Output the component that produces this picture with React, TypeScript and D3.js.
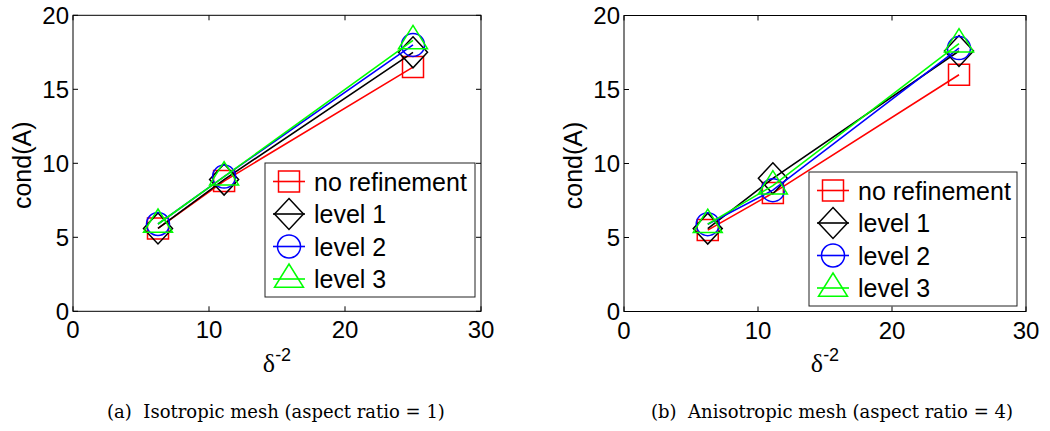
import React, { useEffect, useRef } from 'react';
import * as d3 from 'd3';

// x values are delta^-2 for delta = 0.4, 0.3, 0.2
const deltaValues = [6.25, 11.11, 25];

const seriesLabels = ['no refinement', 'level 1', 'level 2', 'level 3'];
const seriesColors = ['#ff0000', '#000000', '#0000ff', '#00ff00'];
const seriesMarkers = ['square', 'diamond', 'circle', 'triangle'];

// (a) isotropic mesh
const isoNoRefinement = [5.6, 8.8, 16.5];
const isoLevel1 = [5.6, 8.9, 17.5];
const isoLevel2 = [5.9, 9.1, 18.0];
const isoLevel3 = [5.9, 9.1, 18.3];

// (b) anisotropic mesh
const anisoNoRefinement = [5.5, 8.0, 16.0];
const anisoLevel1 = [5.6, 9.0, 17.6];
const anisoLevel2 = [5.9, 8.2, 17.8];
const anisoLevel3 = [5.9, 8.5, 18.1];

const xTicks = [0, 10, 20, 30];
const yTicks = [0, 5, 10, 15, 20];
const captions = ['(a)  Isotropic mesh (aspect ratio = 1)', '(b)  Anisotropic mesh (aspect ratio = 4)'];

const panels = [
    {
        series: [isoNoRefinement, isoLevel1, isoLevel2, isoLevel3],
        left: 73, right: 481, top: 15.3, bottom: 311.3,
        legend: {x: 265, y: 163, w: 210, h: 134},
        yLabelX: 31,
        captionX: 276,
        caption: captions[0]
    },
    {
        series: [anisoNoRefinement, anisoLevel1, anisoLevel2, anisoLevel3],
        left: 624, right: 1026, top: 15.5, bottom: 311.5,
        legend: {x: 809, y: 172, w: 208, h: 134},
        yLabelX: 582,
        captionX: 832,
        caption: captions[1]
    }
];

const sans = '"Liberation Sans", Arial, sans-serif';

function markerPath(kind) {
    switch (kind) {
        case 'square':
            return 'M-10.5,-10.5H10.5V10.5H-10.5Z';
        case 'diamond':
            return 'M0,-15.5L14.5,0L0,15.5L-14.5,0Z';
        case 'circle':
            return 'M-11.5,0A11.5,11.5 0 1,0 11.5,0A11.5,11.5 0 1,0 -11.5,0Z';
        default:
            return 'M0,-15L14.5,8.3L-14.5,8.3Z';
    }
}

function drawPanel(svg, p) {
    let x = d3.scaleLinear().domain([0, 30]).range([p.left, p.right]);
    let y = d3.scaleLinear().domain([0, 20]).range([p.bottom, p.top]);
    let g = svg.append('g');

    g.append('rect')
        .attr('x', p.left).attr('y', p.top)
        .attr('width', p.right - p.left).attr('height', p.bottom - p.top)
        .style('fill', 'none').style('stroke', '#000').style('stroke-width', 1);

    // inward ticks on all four sides
    xTicks.forEach(t => {
        g.append('line').attr('x1', x(t)).attr('x2', x(t)).attr('y1', p.bottom).attr('y2', p.bottom - 5)
            .style('stroke', '#000');
        g.append('line').attr('x1', x(t)).attr('x2', x(t)).attr('y1', p.top).attr('y2', p.top + 5)
            .style('stroke', '#000');
        g.append('text').attr('x', x(t)).attr('y', p.bottom + 27)
            .attr('text-anchor', 'middle')
            .style('font-family', sans).style('font-size', '24px')
            .text(t);
    });
    yTicks.forEach(t => {
        g.append('line').attr('x1', p.left).attr('x2', p.left + 5).attr('y1', y(t)).attr('y2', y(t))
            .style('stroke', '#000');
        g.append('line').attr('x1', p.right).attr('x2', p.right - 5).attr('y1', y(t)).attr('y2', y(t))
            .style('stroke', '#000');
        g.append('text').attr('x', p.left - 4).attr('y', y(t) + 8.5)
            .attr('text-anchor', 'end')
            .style('font-family', sans).style('font-size', '24px')
            .text(t);
    });

    // series
    let line = d3.line().x((d, i) => x(deltaValues[i])).y(d => y(d));
    p.series.forEach((vals, si) => {
        g.append('path')
            .datum(vals)
            .attr('d', line)
            .style('fill', 'none')
            .style('stroke', seriesColors[si])
            .style('stroke-width', 1.6);
        vals.forEach((v, i) => {
            g.append('path')
                .attr('d', markerPath(seriesMarkers[si]))
                .attr('transform', 'translate(' + x(deltaValues[i]) + ',' + y(v) + ')')
                .style('fill', 'none')
                .style('stroke', seriesColors[si])
                .style('stroke-width', 1.5);
        });
    });

    // legend
    let lg = p.legend;
    g.append('rect')
        .attr('x', lg.x).attr('y', lg.y).attr('width', lg.w).attr('height', lg.h)
        .style('fill', '#fff').style('stroke', '#222').style('stroke-width', 1);
    seriesLabels.forEach((name, si) => {
        let cy = lg.y + 18.5 + si * 32.5;
        let cx = lg.x + 24;
        g.append('line').attr('x1', cx - 16).attr('x2', cx + 16).attr('y1', cy).attr('y2', cy)
            .style('stroke', seriesColors[si]).style('stroke-width', 1.6);
        g.append('path')
            .attr('d', markerPath(seriesMarkers[si]))
            .attr('transform', 'translate(' + cx + ',' + cy + ')')
            .style('fill', 'none')
            .style('stroke', seriesColors[si])
            .style('stroke-width', 1.5);
        g.append('text').attr('x', cx + 25).attr('y', cy + 9)
            .style('font-family', sans).style('font-size', '25px')
            .text(name);
    });

    // axis labels
    let midY = (p.top + p.bottom) / 2 + 2;
    g.append('text')
        .attr('transform', 'translate(' + p.yLabelX + ',' + midY + ') rotate(-90)')
        .attr('text-anchor', 'middle')
        .style('font-family', sans).style('font-size', '25px')
        .text('cond(A)');

    let xl = g.append('text')
        .attr('x', (p.left + p.right) / 2)
        .attr('y', 372)
        .attr('text-anchor', 'middle');
    xl.append('tspan')
        .style('font-family', '"Liberation Serif", serif').style('font-size', '26px')
        .text('δ');
    xl.append('tspan')
        .attr('dy', -11)
        .style('font-family', sans).style('font-size', '18px')
        .text('-2');

    g.append('text')
        .attr('x', p.captionX).attr('y', 418)
        .attr('text-anchor', 'middle')
        .style('font-family', '"DejaVu Serif", serif').style('font-size', '18px')
        .style('white-space', 'pre')
        .text(p.caption);
}

export default function App() {
    const ref = useRef(null);

    useEffect(() => {
        let svg = d3.select(ref.current);
        svg.selectAll('*').remove();
        panels.forEach(p => drawPanel(svg, p));
    }, []);

    return (
        <svg ref={ref}
            width={1050}
            height={431}
            style={{position: 'absolute', left: 0, top: 0, background: '#fff'}}>
        </svg>
    );
}
